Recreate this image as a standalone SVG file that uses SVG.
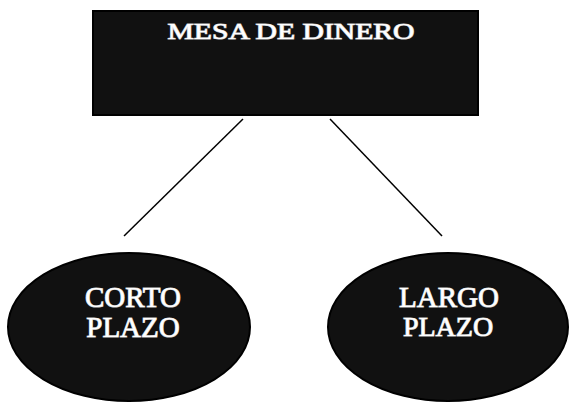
<svg xmlns="http://www.w3.org/2000/svg" width="569" height="402" viewBox="0 0 569 402">
<style>
.shape{fill:#111;stroke:#000;stroke-width:2}
.lbl{font-family:"Liberation Serif","Times New Roman",serif;fill:#fff;stroke:#ccc;stroke-width:1.2;paint-order:stroke;text-anchor:middle}
.conn{stroke:#000;stroke-width:1.5;fill:none}
</style>
<rect width="569" height="402" fill="#fff"/>
<g id="connectors">
<line class="conn" x1="243" y1="119" x2="124" y2="236"/>
<line class="conn" x1="330" y1="119" x2="442" y2="236"/>
</g>
<g id="mesa">
<rect class="shape" x="93" y="11" width="385" height="104"/>
<text class="lbl" x="291" y="39" font-size="23" textLength="247" lengthAdjust="spacingAndGlyphs">MESA DE DINERO</text>
</g>
<g id="corto">
<ellipse class="shape" cx="129" cy="327" rx="121" ry="74"/>
<text class="lbl" x="133" y="307" font-size="29">CORTO</text>
<text class="lbl" x="133" y="337" font-size="29">PLAZO</text>
</g>
<g id="largo">
<ellipse class="shape" cx="448" cy="327" rx="120" ry="74"/>
<text class="lbl" x="449" y="307" font-size="29">LARGO</text>
<text class="lbl" x="448" y="336" font-size="28">PLAZO</text>
</g>
</svg>
